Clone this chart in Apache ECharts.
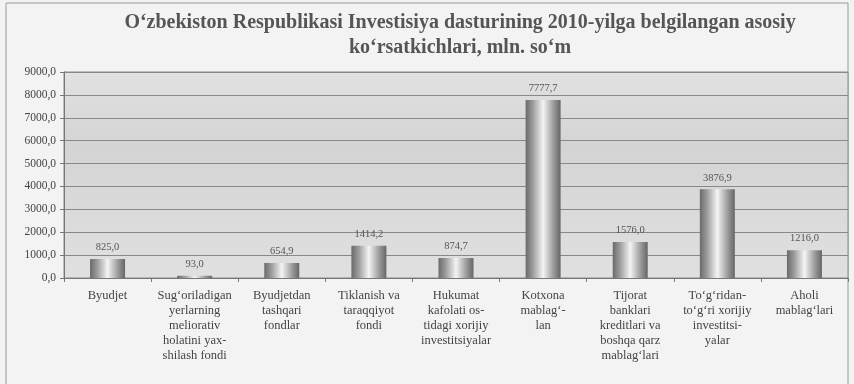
<!DOCTYPE html>
<html>
<head>
<meta charset="utf-8">
<script src="https://cdn.jsdelivr.net/npm/echarts@6/dist/echarts.min.js"></script>
<style>
  html, body { margin: 0; padding: 0; background: #f3f3f3; }
  #chart { width: 854px; height: 384px; }
</style>
</head>
<body>
<div id="chart"></div>
<script>
// Investment programme indicators for 2010, mln. so'm
const titleLines = [
  "O\u2018zbekiston Respublikasi Investisiya dasturining 2010-yilga belgilangan asosiy",
  "ko\u2018rsatkichlari, mln. so\u2018m"
];
const categories = [
  "Byudjet",
  "Sug\u2018oriladigan\nyerlarning\nmeliorativ\nholatini yax-\nshilash fondi",
  "Byudjetdan\ntashqari\nfondlar",
  "Tiklanish va\ntaraqqiyot\nfondi",
  "Hukumat\nkafolati os-\ntidagi xorijiy\ninvestitsiyalar",
  "Kotxona\nmablag\u2018-\nlan",
  "Tijorat\nbanklari\nkreditlari va\nboshqa qarz\nmablag\u2018lari",
  "To\u2018g\u2018ridan-\nto\u2018g\u2018ri xorijiy\ninvestitsi-\nyalar",
  "Aholi\nmablag\u2018lari"
];
const values = [825.0, 93.0, 654.9, 1414.2, 874.7, 7777.7, 1576.0, 3876.9, 1216.0];
const yMin = 0, yMax = 9000, yStep = 1000;

const fmt = v => v.toFixed(1).replace('.', ',');
const serif = '"Liberation Serif", "DejaVu Serif", serif';

const chart = echarts.init(document.getElementById('chart'));
chart.setOption({
  backgroundColor: '#f3f3f3',
  animation: false,
  title: {
    text: titleLines.join('\n'),
    left: 455,
    textAlign: 'center',
    top: 5,
    textStyle: {
      fontFamily: serif, fontSize: 20, fontWeight: 'bold',
      color: '#555', lineHeight: 25
    }
  },
  graphic: [{
    type: 'rect', z: -1,
    shape: { x: 6, y: 3, width: 842, height: 390 },
    style: { fill: 'none', stroke: '#9a9a9a', lineWidth: 1 }
  }],
  grid: {
    left: 64, right: 6, top: 72, bottom: 106,
    show: true,
    backgroundColor: new echarts.graphic.LinearGradient(0, 0, 0, 1, [
      { offset: 0, color: '#e2e2e2' },
      { offset: 0.35, color: '#d4d4d4' },
      { offset: 1, color: '#e0e0e0' }
    ]),
    borderColor: '#8a8a8a', borderWidth: 1
  },
  xAxis: {
    type: 'category',
    data: categories,
    axisTick: { show: true, alignWithLabel: false, length: 4, lineStyle: { color: '#777' } },
    axisLine: { lineStyle: { color: '#777' } },
    splitLine: { show: false },
    axisLabel: {
      interval: 0, margin: 10,
      fontFamily: serif, fontSize: 12.5, lineHeight: 15, color: '#444'
    }
  },
  yAxis: {
    type: 'value',
    min: yMin, max: yMax, interval: yStep,
    axisLine: { show: true, lineStyle: { color: '#777' } },
    axisTick: { show: true, length: 4, lineStyle: { color: '#777' } },
    splitLine: { show: true, lineStyle: { color: '#888', width: 1 } },
    axisLabel: {
      formatter: fmt, margin: 8,
      fontFamily: serif, fontSize: 11.5, color: '#444'
    }
  },
  series: [{
    type: 'bar',
    data: values,
    barWidth: 35,
    itemStyle: {
      color: new echarts.graphic.LinearGradient(0, 0, 1, 0, [
        { offset: 0, color: '#6a6a6a' },
        { offset: 0.2, color: '#9a9a9a' },
        { offset: 0.5, color: '#f4f4f4' },
        { offset: 0.8, color: '#9a9a9a' },
        { offset: 1, color: '#666' }
      ])
    },
    label: {
      show: true, position: 'top', distance: 6,
      formatter: p => fmt(p.value),
      fontFamily: serif, fontSize: 10.5, color: '#555'
    }
  }]
});
</script>
</body>
</html>
